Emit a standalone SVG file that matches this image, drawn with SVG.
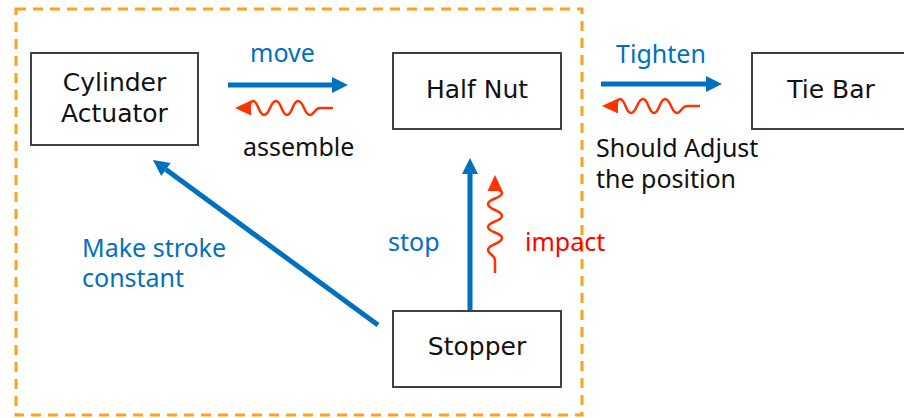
<svg xmlns="http://www.w3.org/2000/svg" width="904" height="418" viewBox="0 0 904 418">
<style>
.box{fill:#fff;stroke:#404040;stroke-width:2}
.bt{font-family:"DejaVu Sans",sans-serif;font-size:25px;fill:#111;text-anchor:middle}
.lb{font-family:"Noto Sans","Open Sans",sans-serif;font-size:25px}
.blue{fill:#0070C0}
.blk{fill:#111}
.red{fill:#FF0000}
.arr{stroke:#0070C0;stroke-width:5;fill:none;marker-end:url(#head)}
.wave{stroke:#FF3300;stroke-width:2.5;fill:none}
.wh{fill:#FF3300}
</style>
<defs>
<marker id="head" markerUnits="userSpaceOnUse" markerWidth="16" markerHeight="16" viewBox="0 -8 16 16" refX="0" refY="0" orient="auto" overflow="visible">
<path d="M0,-8 L16,0 L0,8 z" fill="#0070C0"/>
</marker>
<g id="wavy">
<path class="wave" d="M98,0 L85,0 C80,0 79,7 75,7 C69,7 69,-7 63,-7 C57.5,-7 57.5,7 52,7 C46.5,7 46.5,-7 41,-7 C35,-7 35,7 29,7 C23.5,7 23.5,-7 18,-7 C16,-7 15,-4 14,-2"/>
<polygon class="wh" points="0,0 16,-7.5 16,7.5"/>
</g>
</defs>
<rect width="904" height="418" fill="#fff"/>
<rect id="boundary" x="16" y="9" width="566" height="406" fill="none" stroke="#FFA01E" stroke-width="3" stroke-dasharray="10,7"/>
<g id="cylinder-actuator">
<rect class="box" x="31" y="53" width="167" height="92"/>
<text class="bt" x="114.5" y="91">Cylinder</text>
<text class="bt" x="114.5" y="122">Actuator</text>
</g>
<g id="half-nut">
<rect class="box" x="393" y="53" width="168" height="76"/>
<text class="bt" x="477" y="98">Half Nut</text>
</g>
<g id="tie-bar">
<rect class="box" x="752" y="53" width="160" height="76"/>
<text class="bt" x="831" y="98">Tie Bar</text>
</g>
<g id="stopper">
<rect class="box" x="393" y="311" width="168" height="76"/>
<text class="bt" x="477" y="355">Stopper</text>
</g>
<g id="connectors">
<line class="arr" x1="228" y1="85" x2="332" y2="85"/>
<use href="#wavy" transform="translate(235,108)"/>
<line class="arr" x1="601" y1="84" x2="706" y2="84"/>
<use href="#wavy" transform="translate(602,106)"/>
<line class="arr" x1="470" y1="310" x2="470" y2="174"/>
<use href="#wavy" transform="translate(495,175) rotate(90)"/>
<line class="arr" x1="378" y1="325" x2="165.9" y2="169.5"/>
</g>
<g id="labels">
<text class="lb blue" x="282.5" y="62" text-anchor="middle">move</text>
<text class="lb blk" x="243" y="156">assemble</text>
<text class="lb blue" x="661" y="63" text-anchor="middle">Tighten</text>
<text class="lb blk" x="596" y="157">Should Adjust</text>
<text class="lb blk" x="596" y="188">the position</text>
<text class="lb blue" x="82" y="257">Make stroke</text>
<text class="lb blue" x="82" y="287">constant</text>
<text class="lb blue" x="388" y="251">stop</text>
<text class="lb red" x="525" y="251">impact</text>
</g>
</svg>
